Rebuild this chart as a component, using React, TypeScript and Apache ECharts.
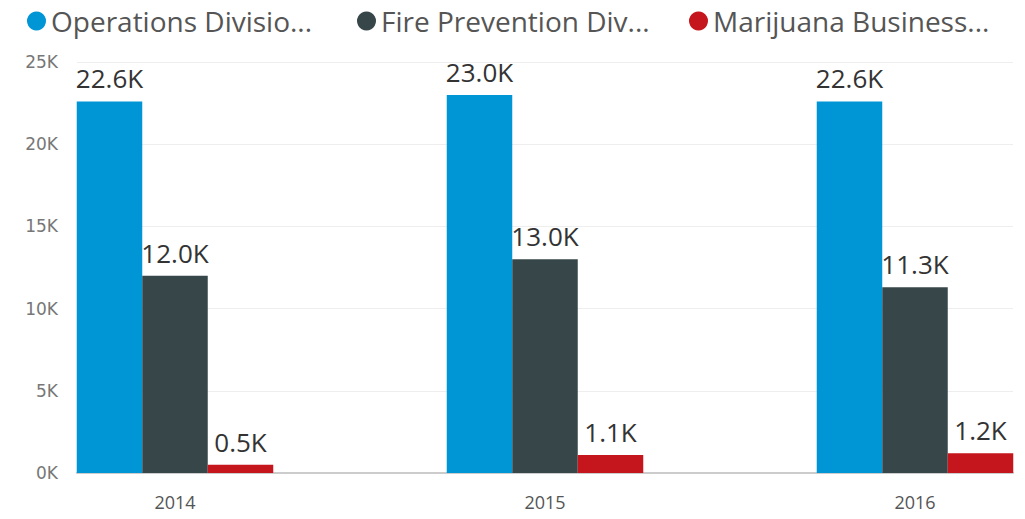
import React, { useEffect, useRef } from "react";
import * as echarts from "echarts";

const categories = ["2014", "2015", "2016"];
const seriesNames = ["Operations Divisio...", "Fire Prevention Div...", "Marijuana Business..."];
const operations = [22600, 23000, 22600];
const firePrevention = [12000, 13000, 11300];
const marijuana = [500, 1100, 1200];
const colors = ["#0095D5", "#374649", "#C4161C"];
const yTicks = [0, 5000, 10000, 15000, 20000, 25000];
const legendLefts = [22, 352, 684];

export default function App() {
  const ref = useRef<HTMLDivElement>(null);
  useEffect(() => {
    if (!ref.current) return;
    const chart = echarts.init(ref.current, null, { renderer: "svg" });
    const font = "'Open Sans', 'Noto Sans', sans-serif";
    const values = [operations, firePrevention, marijuana];
    chart.setOption({
      animation: false,
      textStyle: { fontFamily: font },
      legend: seriesNames.map((name, i) => ({
        left: legendLefts[i],
        top: 2,
        icon: "circle",
        itemWidth: 19,
        itemHeight: 19,
        textStyle: { fontSize: 28, color: "#555", fontFamily: font },
        data: [name],
      })),
      grid: [
        { left: 77, right: 12, top: 62, bottom: 46, outerBoundsMode: "none" },
        { left: -10, width: 1110, top: 62, bottom: 46, outerBoundsMode: "none" },
      ],
      xAxis: [
        {
          gridIndex: 0,
          type: "category",
          data: categories,
          axisLine: { show: true, lineStyle: { color: "#cccccc", width: 2 } },
          axisTick: { show: false },
          axisLabel: { show: false },
        },
        {
          gridIndex: 1,
          type: "category",
          data: categories,
          axisLine: { show: false },
          axisTick: { show: false },
          axisLabel: { color: "#555", fontSize: 18, margin: 20, fontFamily: font },
        },
      ],
      yAxis: [
        {
          gridIndex: 0,
          type: "value",
          min: yTicks[0],
          max: yTicks[yTicks.length - 1],
          interval: 5000,
          axisLine: { show: false },
          axisTick: { show: false },
          axisLabel: {
            color: "#777",
            fontSize: 17,
            margin: 19,
            fontFamily: "'DejaVu Sans', sans-serif",
            formatter: (v: number) => `${v / 1000}K`,
          },
          splitLine: { lineStyle: { color: "#eeeeee", width: 1 } },
        },
        {
          gridIndex: 1,
          type: "value",
          min: yTicks[0],
          max: yTicks[yTicks.length - 1],
          show: false,
          splitLine: { show: false },
        },
      ],
      series: seriesNames.map((name, i) => ({
        name,
        type: "bar",
        xAxisIndex: 1,
        yAxisIndex: 1,
        data: values[i],
        barWidth: 65.5,
        barGap: "0%",
        itemStyle: { color: colors[i] },
        label: {
          show: true,
          position: "top",
          distance: 10,
          color: "#333",
          fontSize: 26,
          fontFamily: font,
          formatter: (p: any) => `${(p.value / 1000).toFixed(1)}K`,
        },
      })),
    });
    return () => chart.dispose();
  }, []);
  return <div ref={ref} style={{ width: 1025, height: 519, margin: -8 }} />;
}
